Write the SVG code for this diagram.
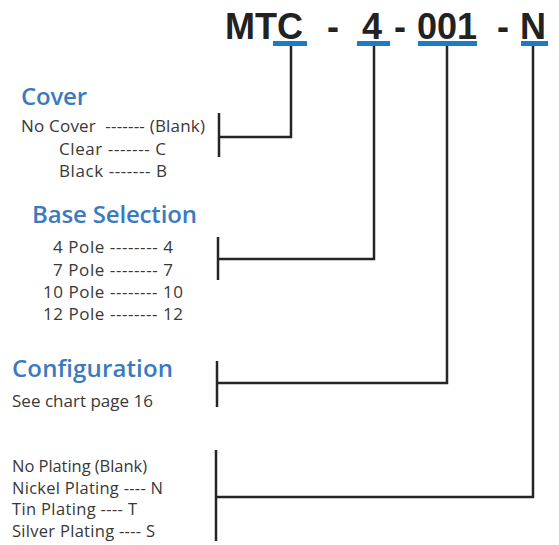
<svg xmlns="http://www.w3.org/2000/svg" width="559" height="545" viewBox="0 0 559 545">
<style>
.code{font-family:"Liberation Sans",Arial,sans-serif;font-weight:bold;font-size:36px;fill:#222}
.head{font-family:"Open Sans","Noto Sans",sans-serif;font-weight:600;font-size:24px;fill:#3a7bc0}
.item{font-family:"Open Sans","Noto Sans",sans-serif;font-size:17px;fill:#383838}
.plate{font-size:16.5px}
.bar{fill:#1b7bc4}
.ln{fill:none;stroke:#252525;stroke-width:2.5}
</style>
<rect width="559" height="545" fill="#fff"/>
<g id="code">
<text class="code" x="225" y="39">MTC</text>
<text class="code" x="327" y="39">-</text>
<text class="code" x="362" y="39">4</text>
<text class="code" x="394" y="39">-</text>
<text class="code" x="417" y="39">001</text>
<text class="code" x="497" y="39">-</text>
<text class="code" x="520" y="39">N</text>
<rect class="bar" x="273" y="41" width="34" height="5"/>
<rect class="bar" x="357" y="41" width="33" height="5"/>
<rect class="bar" x="418" y="41" width="59" height="5"/>
<rect class="bar" x="521" y="41" width="27" height="5"/>
</g>
<g id="cover">
<text class="head" x="21" y="105" textLength="66">Cover</text>
<text class="item" x="21" y="132" textLength="184" xml:space="preserve">No Cover  ------- (Blank)</text>
<text class="item" x="59" y="154.5" textLength="107">Clear ------- C</text>
<text class="item" x="59" y="177" textLength="108">Black ------- B</text>
</g>
<g id="base">
<text class="head" x="32" y="223" textLength="165">Base Selection</text>
<text class="item" x="53" y="253" textLength="120">4 Pole -------- 4</text>
<text class="item" x="53" y="276" textLength="120">7 Pole -------- 7</text>
<text class="item" x="43" y="298" textLength="140">10 Pole -------- 10</text>
<text class="item" x="43" y="320" textLength="140">12 Pole -------- 12</text>
</g>
<g id="config">
<text class="head" x="12" y="377" textLength="161">Configuration</text>
<text class="item" x="12" y="407" textLength="141">See chart page 16</text>
</g>
<g id="plating">
<text class="item plate" x="12" y="472" textLength="135">No Plating (Blank)</text>
<text class="item plate" x="12" y="493.5" textLength="151">Nickel Plating ---- N</text>
<text class="item plate" x="12" y="515" textLength="125">Tin Plating ---- T</text>
<text class="item plate" x="12" y="537" textLength="143">Silver Plating ---- S</text>
</g>
<g id="connectors">
<path class="ln" d="M291 46V137H219"/>
<path class="ln" d="M219 113V157"/>
<path class="ln" d="M374 46V259H218"/>
<path class="ln" d="M218 237V280"/>
<path class="ln" d="M447 46V383H217"/>
<path class="ln" d="M217 361V407"/>
<path class="ln" d="M533 46V497H216"/>
<path class="ln" d="M216 450V541"/>
</g>
</svg>
